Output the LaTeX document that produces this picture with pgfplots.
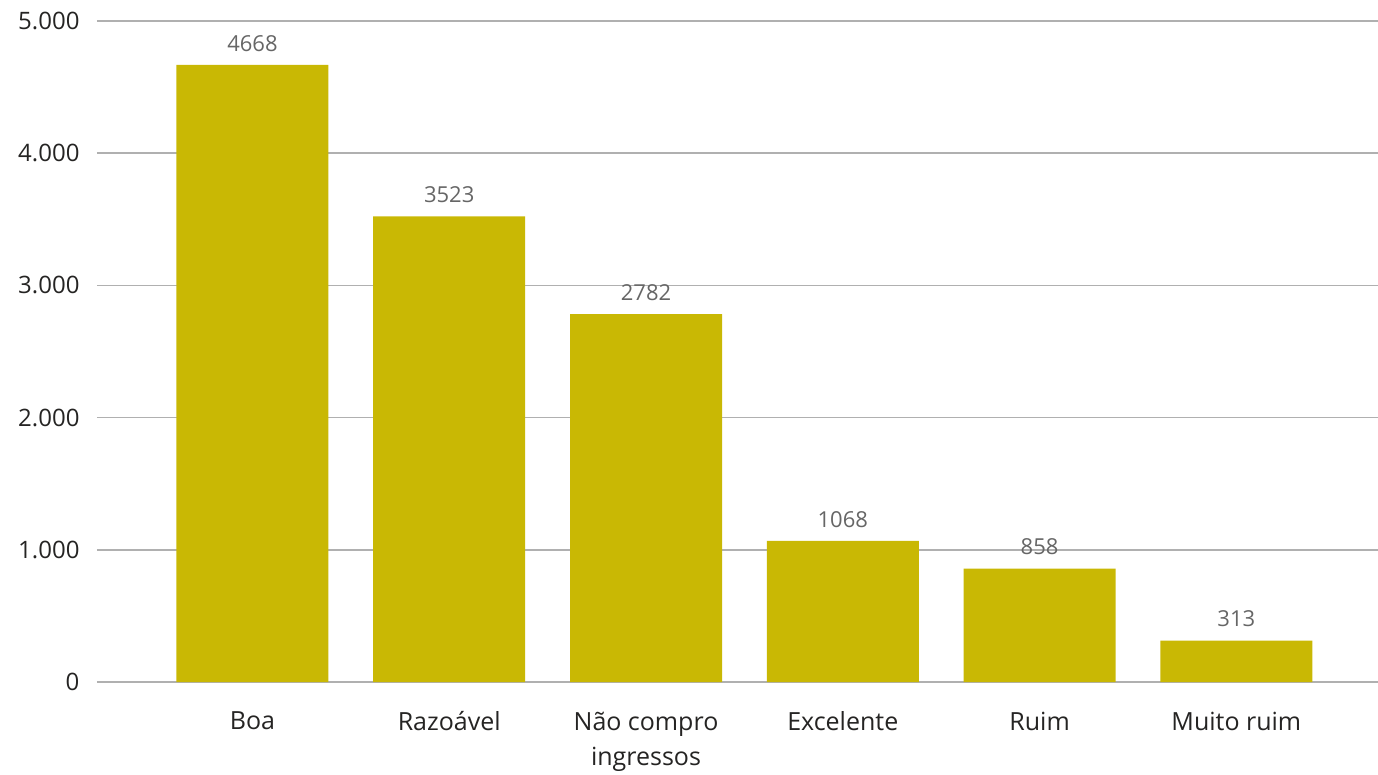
\documentclass[border=0pt]{standalone}
\usepackage{fontspec}
\setmainfont{Open Sans}
\usepackage{pgfplots}
\pgfplotsset{compat=1.18}
\definecolor{barc}{HTML}{C9B804}
\definecolor{gridc}{HTML}{B0B0B0}
\definecolor{tickc}{HTML}{252423}
\definecolor{lblc}{HTML}{666666}
\begin{document}
\begin{tikzpicture}
\path[use as bounding box] (-97pt,-92pt) rectangle (1281pt,682pt);
\begin{axis}[
  scale only axis, width=1281pt, height=661pt,
  anchor=south west, at={(0pt,0pt)},
  ybar, bar width=152pt,
  xmin=-0.79, xmax=5.72, ymin=0, ymax=5000,
  axis line style={draw=none},
  tick style={draw=none},
  ytick={0,1000,2000,3000,4000,5000},
  ymajorgrids, grid style={color=gridc, line width=1.4pt},
  xtick=data,
  xticklabels={Boa,Razoável,{Não compro\\ingressos},Excelente,Ruim,Muito ruim},
  xticklabel style={font=\fontsize{25}{35}\selectfont, color=tickc, align=center, yshift=-22pt},
  yticklabel style={font=\fontsize{24}{28}\selectfont, color=tickc, xshift=-14pt, /pgf/number format/1000 sep={.}},
  /pgf/number format/assume math mode=true,
  nodes near coords,
  nodes near coords style={font=\fontsize{22}{26}\selectfont, color=lblc, anchor=south, yshift=10pt, /pgf/number format/1000 sep={}},
  clip=false,
]
\addplot[fill=barc, draw=none] coordinates {(0,4668) (1,3523) (2,2782) (3,1068) (4,858) (5,313)};
\end{axis}
\end{tikzpicture}
\end{document}
